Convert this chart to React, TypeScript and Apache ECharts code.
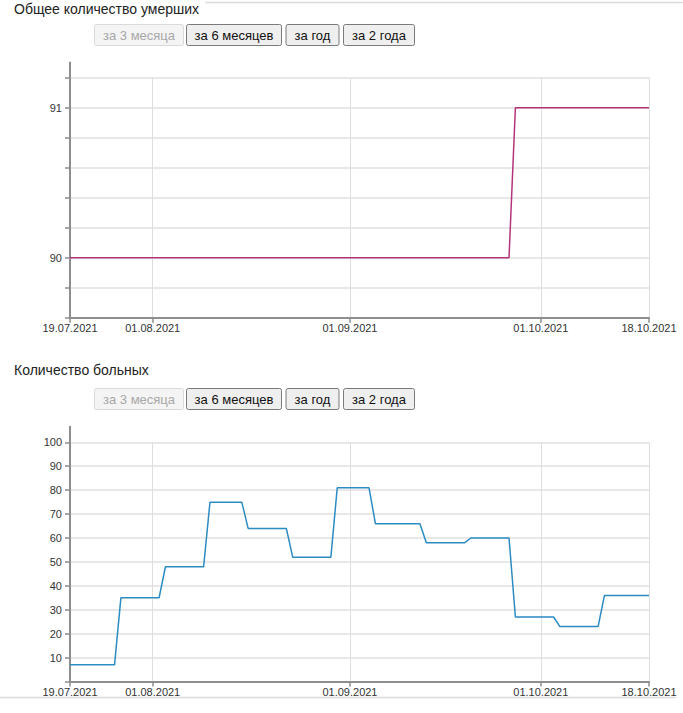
import React, { useEffect, useRef } from "react";
import * as echarts from "echarts";

// ---- data ----
const startDate = "2021-07-19";
const dayCount = 92;
const tickLabels = ["19.07.2021", "01.08.2021", "01.09.2021", "01.10.2021", "18.10.2021"];

const titleDeaths = "Общее количество умерших";
const titleSick = "Количество больных";
const buttonLabels = ["за 3 месяца", "за 6 месяцев", "за год", "за 2 года"];

// Общее количество умерших (daily)
const deaths = [
  90, 90, 90, 90, 90, 90, 90, 90, 90, 90,
  90, 90, 90, 90, 90, 90, 90, 90, 90, 90,
  90, 90, 90, 90, 90, 90, 90, 90, 90, 90,
  90, 90, 90, 90, 90, 90, 90, 90, 90, 90,
  90, 90, 90, 90, 90, 90, 90, 90, 90, 90,
  90, 90, 90, 90, 90, 90, 90, 90, 90, 90,
  90, 90, 90, 90, 90, 90, 90, 90, 90, 90,
  91, 91, 91, 91, 91, 91, 91, 91, 91, 91,
  91, 91, 91, 91, 91, 91, 91, 91, 91, 91,
  91, 91,
];

// Количество больных (daily)
const sick = [
  7, 7, 7, 7, 7, 7, 7, 7,
  35, 35, 35, 35, 35, 35, 35,
  48, 48, 48, 48, 48, 48, 48,
  75, 75, 75, 75, 75, 75,
  64, 64, 64, 64, 64, 64, 64,
  52, 52, 52, 52, 52, 52, 52,
  81, 81, 81, 81, 81, 81,
  66, 66, 66, 66, 66, 66, 66, 66,
  58, 58, 58, 58, 58, 58, 58,
  60, 60, 60, 60, 60, 60, 60,
  27, 27, 27, 27, 27, 27, 27,
  23, 23, 23, 23, 23, 23, 23,
  36, 36, 36, 36, 36, 36, 36, 36,
];

function buildDates(): string[] {
  const [y, m, d] = startDate.split("-").map(Number);
  const base = Date.UTC(y, m - 1, d);
  const out: string[] = [];
  for (let i = 0; i < dayCount; i++) {
    const t = new Date(base + i * 86400000);
    const dd = String(t.getUTCDate()).padStart(2, "0");
    const mm = String(t.getUTCMonth() + 1).padStart(2, "0");
    out.push(`${dd}.${mm}.${t.getUTCFullYear()}`);
  }
  return out;
}

const FONT = '"Liberation Sans", Arial, sans-serif';
const AXIS_COLOR = "#8e8e8e";

export default function App() {
  const ref = useRef<HTMLDivElement>(null);

  useEffect(() => {
    if (!ref.current) return;
    const chart = echarts.init(ref.current, undefined, { renderer: "svg" });
    const dates = buildDates();
    const isTick = (_i: number, v: string) => tickLabels.indexOf(v) >= 0;

    const gridLeft = 70;
    const gridWidth = 579;
    const grids = [
      { left: gridLeft, top: 77.7, width: gridWidth, height: 240 },
      { left: gridLeft, top: 442.3, width: gridWidth, height: 239.3 },
    ];

    const xAxisBase = (gridIndex: number) => ({
      type: "category" as const,
      gridIndex,
      data: dates,
      boundaryGap: false,
      axisLine: { lineStyle: { color: AXIS_COLOR, width: 2 } },
      axisTick: { interval: isTick, length: 5, lineStyle: { color: AXIS_COLOR, width: 1.5 } },
      axisLabel: {
        interval: isTick,
        color: "#333",
        fontSize: 11,
        fontFamily: FONT,
        margin: 5,
      },
      splitLine: { show: true, interval: isTick, lineStyle: { color: "#dedede", width: 1 } },
    });

    const yAxisBase = (gridIndex: number) => ({
      type: "value" as const,
      gridIndex,
      axisLine: { show: true, lineStyle: { color: AXIS_COLOR, width: 2 } },
      axisTick: { show: true, length: 5, lineStyle: { color: AXIS_COLOR, width: 1.5 } },
      axisLabel: { color: "#333", fontSize: 11, fontFamily: FONT, margin: 8 },
      splitLine: { show: true, lineStyle: { color: "#e8e8e8", width: 2 } },
    });

    const buttonXs = [94, 186, 285.5, 343];
    const buttonWs = [89, 95, 53, 71];
    const makeButtons = (top: number) =>
      buttonLabels.map((label, i) => {
        const disabled = i === 0;
        return {
          type: "group",
          x: buttonXs[i],
          y: top,
          children: [
            {
              type: "rect",
              shape: { x: 0.5, y: 0.5, width: buttonWs[i], height: 21, r: 2 },
              style: {
                fill: disabled ? "#f4f4f4" : "#efefef",
                stroke: disabled ? "#dadada" : "#7a7a7a",
                lineWidth: 1,
              },
            },
            {
              type: "text",
              x: buttonWs[i] / 2 + 0.5,
              y: 11.5,
              style: {
                text: label,
                align: "center",
                verticalAlign: "middle",
                fill: disabled ? "#a8a8a8" : "#111",
                font: `13px ${FONT}`,
              },
            },
          ],
        };
      });

    const option: any = {
      animation: false,
      backgroundColor: "#fff",
      grid: grids,
      xAxis: [xAxisBase(0), xAxisBase(1)],
      yAxis: [
        {
          ...yAxisBase(0),
          min: 89.6,
          max: 91.2,
          interval: 0.2,
          axisLabel: {
            ...yAxisBase(0).axisLabel,
            formatter: (v: number) => {
              const r = Math.round(v);
              return Math.abs(v - r) < 1e-6 ? String(r) : "";
            },
          },
        },
        {
          ...yAxisBase(1),
          min: 0,
          max: 100,
          interval: 10,
          axisLabel: {
            ...yAxisBase(1).axisLabel,
            formatter: (v: number) => (v === 0 ? "" : String(v)),
          },
        },
      ],
      series: [
        {
          type: "line",
          xAxisIndex: 0,
          yAxisIndex: 0,
          data: deaths,
          showSymbol: false,
          lineStyle: { color: "#b3347a", width: 1.5 },
          itemStyle: { color: "#b3347a" },
        },
        {
          type: "line",
          xAxisIndex: 1,
          yAxisIndex: 1,
          data: sick,
          showSymbol: false,
          lineStyle: { color: "#2b8bc3", width: 1.5 },
          itemStyle: { color: "#2b8bc3" },
        },
      ],
      graphic: [
        // separators
        { type: "line", shape: { x1: 205, y1: 2.5, x2: 683, y2: 2.5 }, style: { stroke: "#dcdcdc", lineWidth: 1.5 } },
        { type: "line", shape: { x1: 0, y1: 697.5, x2: 676, y2: 697.5 }, style: { stroke: "#dcdcdc", lineWidth: 1.5 } },
        // titles
        {
          type: "text",
          x: 14,
          y: 9,
          style: { text: titleDeaths, fill: "#222", font: `14px ${FONT}`, verticalAlign: "middle" },
        },
        {
          type: "text",
          x: 14,
          y: 370,
          style: { text: titleSick, fill: "#222", font: `14px ${FONT}`, verticalAlign: "middle" },
        },
        // y-axis line extensions above the top gridline
        {
          type: "line",
          shape: { x1: gridLeft, y1: 61.7, x2: gridLeft, y2: 77.7 },
          style: { stroke: AXIS_COLOR, lineWidth: 2 },
        },
        {
          type: "line",
          shape: { x1: gridLeft, y1: 426, x2: gridLeft, y2: 442.3 },
          style: { stroke: AXIS_COLOR, lineWidth: 2 },
        },
        ...makeButtons(24),
        ...makeButtons(388),
      ],
    };

    chart.setOption(option);
    return () => chart.dispose();
  }, []);

  return (
    <div
      ref={ref}
      style={{ position: "fixed", left: 0, top: 0, width: 683, height: 713, background: "#fff" }}
    />
  );
}
